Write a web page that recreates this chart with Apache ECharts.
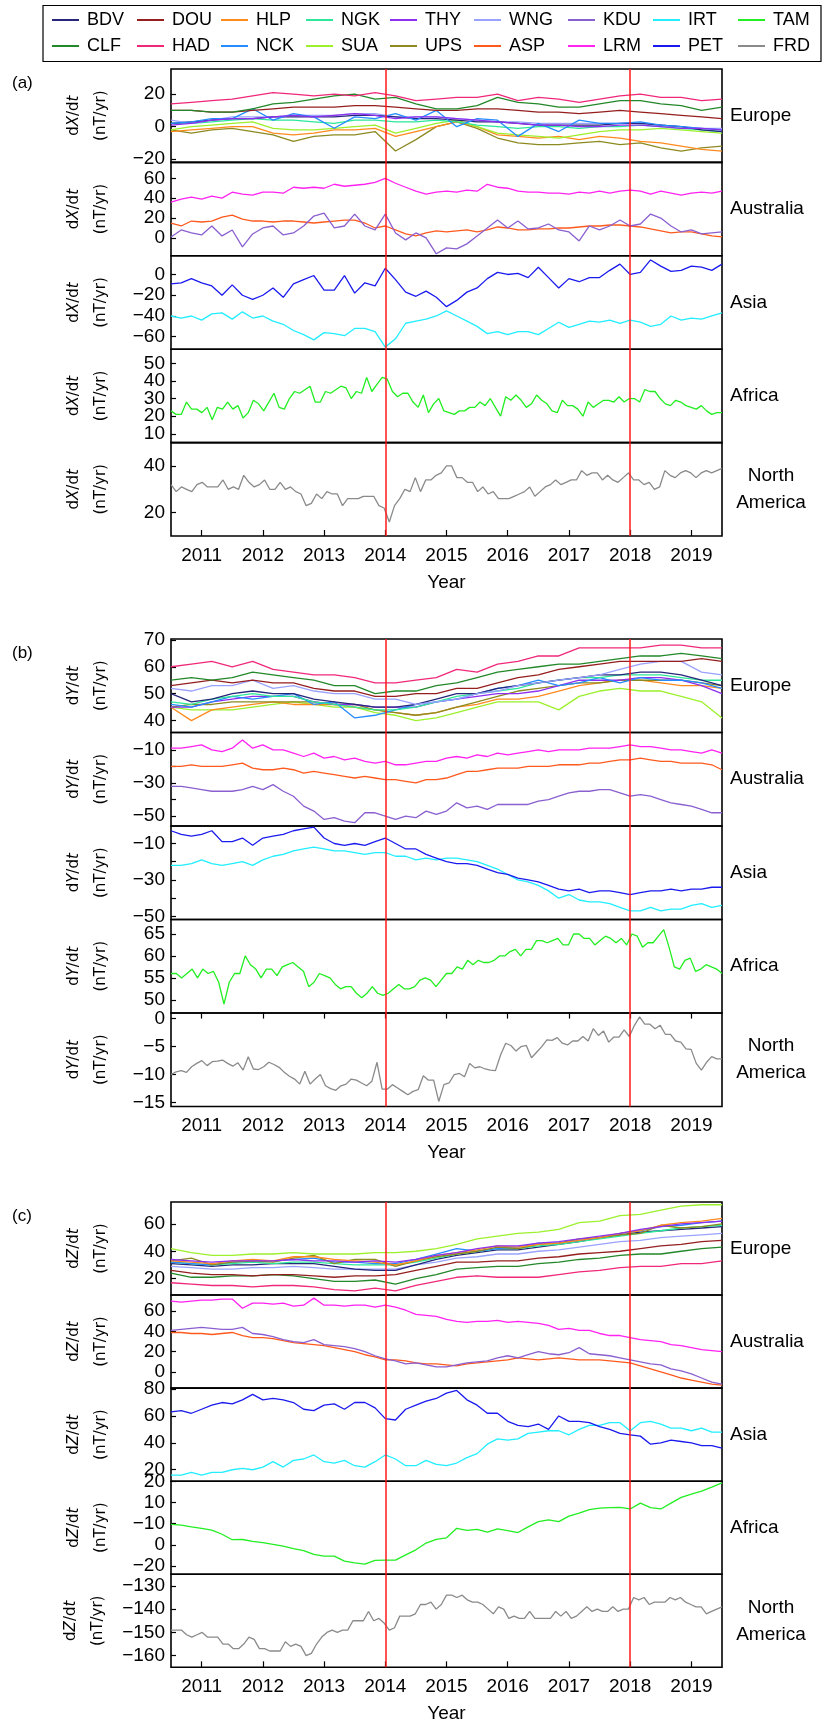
<!DOCTYPE html>
<html><head><meta charset="utf-8">
<script src="https://cdn.jsdelivr.net/npm/echarts@6/dist/echarts.min.js"></script>
<style>html,body{margin:0;padding:0;background:#fff}#c{width:822px;height:1726px}</style>
</head><body><div id="c"></div>
<script>
// ---------- tick labels ----------
const YEARS = [2011, 2012, 2013, 2014, 2015, 2016, 2017, 2018, 2019];
const EVENT_YEARS = [2014, 2018];
const T_START = 2010.5, T_END = 2019.5;

// ---------- (a) dX/dt ----------
// Europe (every ~4 months)
const xBDV = [2,3,4,5,5,6,6,6,6,7,7,6,5,5,4,3,3,2,1,1,1,1,2,2,1,0,-2,-3];
const xDOU = [10,10,9,9,10,11,12,12,12,13,13,12,11,10,10,11,11,10,9,9,8,9,10,9,8,7,6,5];
const xHLP = [-3,-2,-1,0,0,-4,-5,-4,-2,-2,-1,-6,-3,0,3,0,-5,-6,-7,-6,-8,-6,-7,-9,-10,-12,-14,-15];
const xNGK = [2,2,3,4,5,4,4,3,2,4,4,3,3,4,3,1,0,-1,0,0,-1,0,0,1,0,-1,-2,-3];
const xTHY = [1,2,4,5,5,6,7,6,7,8,7,5,6,6,5,4,3,2,1,1,0,0,1,1,0,-1,-1,-2];
const xWNG = [4,2,4,6,6,6,7,7,7,8,8,6,6,6,5,4,3,3,2,2,2,2,2,2,1,0,-1,-1];
const xCLF = [10,10,9,9,11,14,15,17,19,20,17,18,14,11,11,13,18,15,14,12,12,14,16,16,14,13,10,12];
const xHAD = [14,15,16,17,19,21,20,19,20,19,21,19,16,17,18,18,20,16,18,17,15,17,19,20,18,18,16,17];
const xNCK = [2,3,5,5,11,4,8,6,-1,6,5,8,4,10,0,5,4,-6,2,-3,4,2,2,3,1,0,-1,-2];
const xSUA = [-2,0,1,2,3,-1,-2,-2,-1,0,1,-4,-1,2,4,0,-4,-5,-6,-7,-5,-3,-2,-2,-1,-2,-3,-4];
const xUPS = [-2,-4,-2,-1,-3,-5,-9,-6,-5,-5,-3,-15,-8,0,3,-1,-7,-10,-11,-11,-10,-9,-11,-10,-13,-15,-13,-12];
// Australia (every 2 months)
const xLRM = [36,39,41,39,42,40,46,44,43,46,46,45,51,50,51,50,54,52,53,54,56,60,55,51,47,44,46,47,46,48,47,54,51,50,47,46,46,45,45,44,46,45,47,45,47,48,47,44,47,45,43,45,46,45,47];
const xASP = [15,12,17,16,17,21,23,19,17,17,16,17,17,16,15,16,17,18,18,15,10,12,8,4,2,5,7,6,7,8,6,8,11,10,8,8,9,9,10,10,11,12,12,13,13,12,11,9,7,5,6,6,4,2,1];
const xKDU = [1,8,5,3,12,2,8,-9,4,10,12,3,5,12,22,25,10,12,24,12,8,24,5,-2,5,0,-16,-10,-11,-6,2,10,18,10,17,9,10,14,8,6,-3,12,8,12,18,12,14,24,20,12,6,8,4,5,6];
// Asia
const xPET = [-9,-8,-4,-8,-11,-20,-10,-20,-24,-20,-13,-22,-9,-5,-1,-15,-15,-1,-18,-8,-11,6,-5,-17,-21,-16,-22,-31,-25,-17,-13,-4,2,0,1,-3,7,-3,-13,-4,-7,-3,-3,4,10,0,2,14,8,3,4,8,7,4,10];
const xIRT = [-40,-42,-40,-44,-38,-37,-43,-36,-42,-40,-45,-48,-54,-58,-63,-56,-57,-59,-52,-52,-55,-70,-62,-47,-45,-43,-40,-35,-40,-45,-50,-57,-55,-58,-55,-55,-58,-52,-46,-51,-48,-45,-46,-44,-47,-44,-46,-50,-48,-40,-44,-42,-43,-40,-37];
// Africa (monthly)
const xTAM = [23,21,21,28,24,24,22,25,18,25,24,28,24,26,19,22,29,27,23,28,33,25,24,30,34,33,35,37,28,28,34,33,35,37,36,30,34,33,42,34,38,42,41,34,31,33,33,28,25,32,22,27,30,23,22,21,23,23,25,25,28,26,30,25,20,31,29,32,29,25,27,32,29,27,23,22,29,26,26,24,20,28,25,27,29,29,28,31,28,30,30,28,35,34,34,30,27,26,29,28,26,25,24,26,23,21,22,22];
// North America (monthly)
const xFRD = [32,29,31,30,29,32,33,31,31,31,34,30,31,30,36,33,31,32,34,30,30,33,30,31,29,28,23,24,28,26,29,28,28,23,26,26,26,27,27,27,23,22,16,23,26,30,29,35,29,34,34,36,37,40,40,35,35,33,33,29,31,28,29,26,26,26,27,28,29,31,27,29,31,32,34,32,33,34,34,38,36,37,37,34,36,34,33,35,37,34,34,32,33,30,31,38,36,35,37,38,37,35,37,38,37,38,39];

// ---------- (b) dY/dt ----------
const yHAD = [60,61,62,60,62,59,58,57,57,56,54,54,55,56,59,58,61,62,64,64,67,67,67,67,68,68,67,67];
const yCLF = [55,56,55,56,58,57,56,55,53,53,50,51,51,53,54,56,58,59,60,61,61,62,63,64,64,65,64,63];
const yDOU = [53,54,55,54,55,54,54,52,51,51,49,49,50,50,52,52,54,56,57,59,60,61,62,62,62,62,63,62];
const yWNG = [52,51,53,53,55,52,53,51,50,50,48,48,46,47,48,50,51,53,54,55,56,57,59,61,62,62,58,57];
const yBDV = [50,47,48,50,51,50,50,48,47,46,45,45,46,48,50,50,52,53,54,55,56,57,57,58,58,57,55,53];
const yNGK = [47,46,48,49,50,49,49,47,46,45,44,44,45,47,49,50,51,52,54,55,56,56,57,57,57,56,55,55];
const yNCK = [46,45,47,49,48,49,50,46,47,41,42,44,46,47,48,50,52,53,55,53,54,56,54,56,55,55,54,52];
const yTHY = [45,45,47,48,49,49,49,47,46,46,45,45,45,47,48,49,50,50,51,53,55,55,55,56,56,55,53,50];
const yUPS = [45,46,46,47,47,47,47,47,46,46,44,43,42,43,45,47,49,51,52,53,54,54,55,55,55,55,54,53];
const yHLP = [45,40,44,45,46,47,46,46,46,45,44,43,42,43,45,46,48,48,49,51,53,54,55,55,54,53,53,52];
const ySUA = [45,44,44,44,45,46,47,46,45,45,43,42,40,41,43,45,47,47,47,44,49,51,52,51,51,49,47,41];
const yLRM = [-9,-9,-8,-7,-10,-11,-9,-4,-9,-7,-10,-10,-12,-14,-12,-15,-14,-16,-15,-17,-18,-17,-19,-19,-18,-17,-17,-15,-14,-15,-13,-14,-12,-13,-12,-11,-10,-11,-10,-10,-10,-9,-9,-9,-8,-7,-8,-8,-9,-10,-10,-11,-12,-10,-12];
const yASP = [-20,-20,-19,-20,-20,-20,-19,-18,-21,-22,-22,-21,-22,-24,-23,-24,-25,-26,-27,-26,-27,-28,-28,-29,-30,-28,-28,-27,-25,-23,-23,-22,-21,-21,-21,-20,-20,-20,-19,-19,-19,-18,-18,-17,-16,-16,-15,-16,-17,-17,-18,-18,-18,-19,-22];
const yKDU = [-32,-32,-33,-34,-35,-35,-35,-34,-32,-34,-31,-35,-38,-44,-47,-52,-51,-53,-54,-48,-48,-50,-52,-50,-51,-47,-49,-47,-42,-45,-44,-46,-43,-43,-43,-43,-41,-40,-38,-36,-35,-35,-34,-34,-36,-38,-37,-38,-40,-42,-43,-44,-46,-48,-48];
const yPET = [-3,-5,-6,-5,-3,-9,-9,-7,-11,-7,-6,-5,-3,-2,-1,-7,-10,-11,-10,-11,-9,-7,-10,-13,-13,-16,-18,-20,-21,-21,-22,-24,-26,-27,-29,-30,-31,-33,-35,-36,-35,-37,-36,-36,-37,-38,-37,-36,-36,-35,-36,-35,-35,-34,-34];
const yIRT = [-22,-22,-21,-19,-21,-22,-21,-20,-22,-19,-17,-16,-14,-13,-12,-13,-14,-14,-15,-16,-15,-15,-17,-17,-19,-18,-19,-18,-18,-19,-20,-22,-24,-27,-30,-31,-33,-36,-40,-38,-41,-42,-42,-43,-45,-47,-47,-45,-47,-46,-46,-44,-43,-45,-44];
const yTAM = [56,56,55,56,57,55,57,56,56.5,54,49,54,56,56,60,58,57,55,57,57,55.5,57.5,58,58.5,57.5,56.5,53,54,56,55.5,55,53.5,52.5,53,53,51.5,50.5,51.5,53,51.5,51,51.5,52.5,53.5,52.5,52.5,53,54.5,55,54.5,53,54.5,56,56,57.5,57,59,58,59,58.5,58.5,59,60,60,61,61.5,60,61.5,61.5,63.5,63.5,63,63.5,64,62.5,62.5,65,65,64,64,62.5,63.5,64.5,64,63,64,62.5,65,64.5,62,63,63,64.5,66,62,57.5,57,59,59.5,56.5,57,58,57.5,57,56];
const yFRD = [-10,-9.5,-9.3,-9.6,-8.6,-8,-7.5,-8.4,-7.7,-7.6,-7.4,-8,-8.5,-7.9,-9.2,-6.8,-9,-9.1,-8.6,-7.8,-8.2,-8.7,-9.6,-10.3,-10.8,-11.7,-9.4,-11.7,-10.8,-10,-12,-12.5,-12.8,-12,-11.7,-10.8,-11,-11.5,-12,-11.2,-7.8,-12.6,-12.6,-11.8,-12.4,-13,-13.6,-13,-12.7,-10.2,-11,-11,-14.8,-11.8,-11.5,-10,-9.8,-10.4,-8,-8.8,-8.6,-9,-9.2,-9.3,-6.5,-4.4,-4.8,-5.8,-5,-4.8,-7,-6,-5,-3.8,-3.9,-3.4,-4.4,-4.7,-4,-4,-3.2,-4,-1.8,-3,-2.2,-4.2,-3.3,-3.3,-2,-3.2,-1.2,0.3,-1,-1,-1.8,-1.2,-2.8,-2.8,-4,-4.2,-5.4,-5.5,-8,-9.2,-7.8,-6.8,-7.2,-7.2];

// ---------- (c) dZ/dt ----------
const zSUA = [42,39,37,37,38,38,39,38,38,38,39,39,40,42,45,49,51,53,54,56,61,62,66,67,70,73,74,74];
const zTHY = [34,33,32,33,33,33,34,33,33,32,33,32,34,37,39,42,44,44,46,47,49,51,53,56,58,60,61,62];
const zHLP = [33,32,31,33,34,33,36,36,34,33,32,30,33,37,39,41,44,43,45,46,48,50,53,55,59,61,62,64];
const zUPS = [33,35,30,32,33,32,35,37,31,34,34,29,33,36,38,40,43,42,45,46,49,50,52,53,59,57,58,60];
const zNCK = [32,31,30,32,33,33,34,35,32,32,31,31,34,38,42,40,42,43,46,46,48,50,53,55,58,59,61,62];
const zNGK = [32,31,30,31,32,31,32,32,31,30,30,30,32,35,38,40,42,42,44,45,47,49,51,53,55,57,58,59];
const zBDV = [31,30,29,30,30,31,31,31,29,27,26,26,30,34,37,39,41,41,43,45,47,50,52,54,55,56,57,58];
const zWNG = [29,28,27,27,28,28,29,28,27,27,27,27,30,32,35,36,38,38,40,41,43,45,47,48,50,51,52,53];
const zDOU = [26,24,23,23,22,23,23,22,21,22,22,23,26,29,32,32,33,33,35,36,38,39,40,42,44,45,47,48];
const zCLF = [24,21,21,22,22,23,22,20,18,18,19,16,20,23,27,28,29,29,31,32,34,35,37,38,38,40,42,43];
const zHAD = [17,16,15,15,14,15,15,14,12,11,13,11,15,18,21,22,21,21,21,23,25,26,28,29,29,31,31,33];
const zLRM = [70,69,70,71,71,72,72,63,68,68,67,68,65,66,73,66,66,65,66,66,64,66,64,61,57,56,55,52,50,49,50,50,51,49,50,49,48,46,42,43,41,41,38,36,36,34,32,31,30,27,26,24,22,21,20];
const zASP = [39,39,38,38,37,38,39,36,34,34,33,31,29,28,27,26,24,22,20,17,15,12,12,11,9,8,8,7,6,8,9,10,11,12,14,13,12,13,14,13,12,12,12,11,10,9,6,3,0,-3,-6,-8,-10,-12,-13];
const zKDU = [41,42,43,44,43,42,42,44,38,37,35,32,30,29,32,27,26,25,23,20,16,13,11,8,9,7,5,5,7,9,10,11,14,16,14,17,20,18,17,19,24,18,17,16,14,12,10,8,7,3,1,-2,-6,-10,-12];
const zPET = [63,64,62,65,68,70,69,72,76,72,73,72,70,65,64,68,69,65,70,70,66,58,57,65,68,71,73,77,79,72,68,62,62,56,53,52,54,50,60,56,56,55,52,50,47,46,45,39,40,42,41,40,38,38,36];
const zIRT = [16,16,18,16,18,18,20,21,20,22,26,22,27,28,31,26,25,27,23,22,26,31,28,23,23,27,24,23,25,29,32,39,43,42,43,47,48,49,49,46,50,53,53,55,55,49,55,56,54,51,51,49,51,48,48];
const zTAM = [-0.3,-0.7,-1.5,-2.2,-3,-5,-7.6,-7.5,-8.4,-9,-9.8,-10.6,-11.8,-12.8,-14.6,-15.4,-15.4,-17.8,-18.6,-19.2,-17.4,-17.3,-17.3,-14.8,-12.4,-9.2,-7.4,-6.7,-2.2,-3.2,-2.7,-4,-2.5,-3.3,-4.2,-1.5,1,1.8,1,3.6,5,6.7,7.4,7.6,7.8,7,9.8,7.6,7,9.8,12.5,14,15.5,17.4,19.4];
const zFRD = [-149,-149,-149,-151,-152,-151,-150,-152,-152,-152,-155,-155,-157,-157,-155,-152,-153,-157,-157,-158,-158,-158,-154,-156,-155,-156,-160,-159,-155,-152,-150,-149,-150,-149,-149,-145,-145,-145,-141,-145,-144,-146,-149,-148,-143,-143,-143,-142,-138,-138,-137,-140,-138,-134,-134,-135,-134,-136,-137,-137,-138,-140,-142,-139,-140,-144,-143,-144,-144,-141,-144,-144,-144,-144,-141,-143,-141,-144,-143,-141,-139,-141,-140,-141,-141,-139,-141,-140,-140,-135,-136,-135,-138,-137,-137,-137,-135,-136,-135,-137,-138,-139,-139,-142,-141,-140,-139];

// ---------- legend layout ----------
const LEG_ROW1 = ['BDV','DOU','HLP','NGK','THY','WNG','KDU','IRT','TAM'];
const LEG_ROW2 = ['CLF','HAD','NCK','SUA','UPS','ASP','LRM','PET','FRD'];

// ---------- styles ----------
const COLORS = {
  BDV:'#26267a', DOU:'#951f1f', HLP:'#ff8a1e', NGK:'#2de89a', THY:'#8e2ff0', WNG:'#9aa2ff',
  KDU:'#8a5fd0', IRT:'#22eeff', TAM:'#22ee22', CLF:'#23882a', HAD:'#f0287a', NCK:'#248cff',
  SUA:'#9cf02c', UPS:'#8c8a20', ASP:'#ff5a1e', LRM:'#ff22f0', PET:'#1a1aee', FRD:'#8a8a8a'
};
const FONT = 'Liberation Sans, Arial, sans-serif';
const LEFT = 171, RIGHT = 722;

const panels = [
  { label:'(a)', top:69, h:93.4, comp:'X', rows:[
    { region:'Europe', min:-22, max:35.5, ticks:[-20,0,20],
      data:{UPS:xUPS, HLP:xHLP, SUA:xSUA, NGK:xNGK, WNG:xWNG, BDV:xBDV, NCK:xNCK, THY:xTHY, DOU:xDOU, CLF:xCLF, HAD:xHAD} },
    { region:'Australia', min:-18, max:76, ticks:[0,20,40,60], data:{ASP:xASP, KDU:xKDU, LRM:xLRM} },
    { region:'Asia', min:-72, max:18, ticks:[-60,-40,-20,0], data:{IRT:xIRT, PET:xPET} },
    { region:'Africa', min:5, max:58, ticks:[10,20,30,40,50], labels:[10,30,50], extraLabels:[20,40], data:{TAM:xTAM} },
    { region:'North\nAmerica', min:10, max:50, ticks:[20,40], data:{FRD:xFRD} }
  ]},
  { label:'(b)', top:639, h:93.5, comp:'Y', rows:[
    { region:'Europe', min:35.6, max:70.3, ticks:[40,50,60,70],
      data:{SUA:ySUA, HLP:yHLP, UPS:yUPS, THY:yTHY, NCK:yNCK, NGK:yNGK, BDV:yBDV, WNG:yWNG, DOU:yDOU, CLF:yCLF, HAD:yHAD} },
    { region:'Australia', min:-56, max:0.5, ticks:[-50,-40,-30,-20,-10], labels:[-50,-30,-10], data:{KDU:yKDU, ASP:yASP, LRM:yLRM} },
    { region:'Asia', min:-51.7, max:-0.4, ticks:[-50,-40,-30,-20,-10], labels:[-50,-30,-10], data:{IRT:yIRT, PET:yPET} },
    { region:'Africa', min:47, max:68.3, ticks:[50,55,60,65], data:{TAM:yTAM} },
    { region:'North\nAmerica', min:-15.7, max:1, ticks:[-15,-10,-5,0], data:{FRD:yFRD} }
  ]},
  { label:'(c)', top:1202, h:93.06, comp:'Z', rows:[
    { region:'Europe', min:8, max:76, ticks:[20,40,60],
      data:{HAD:zHAD, CLF:zCLF, DOU:zDOU, WNG:zWNG, BDV:zBDV, NGK:zNGK, NCK:zNCK, UPS:zUPS, HLP:zHLP, THY:zTHY, SUA:zSUA} },
    { region:'Australia', min:-16, max:76, ticks:[0,20,40,60], data:{ASP:zASP, KDU:zKDU, LRM:zLRM} },
    { region:'Asia', min:11.5, max:80.7, ticks:[20,40,60,80], data:{IRT:zIRT, PET:zPET} },
    { region:'Africa', min:-24, max:20.2, ticks:[-20,-10,0,10,20],
      labelMap:{'20':'20','10':'10','0':'\u221210','-10':'0','-20':'\u221220'}, data:{TAM:zTAM} },
    { region:'North\nAmerica', min:-165, max:-125, ticks:[-160,-150,-140,-130], data:{FRD:zFRD} }
  ]}
];

function withTime(vals) {
  const n = vals.length;
  return vals.map((v, i) => [T_START + i * (T_END - T_START) / (n - 1), v]);
}
function fmt(v) { return String(v).replace('-', '\u2212'); }

const grid = [], xAxis = [], yAxis = [], series = [], graphic = [];

graphic.push({ type:'rect', shape:{x:43, y:5.5, width:778, height:56}, style:{fill:'none', stroke:'#000', lineWidth:1.2}, silent:true });

function yLabelCfg(r, values) {
  return { show:true, customValues:values, fontSize:19, lineHeight:13, fontFamily:FONT, color:'#000', margin:6,
    interval:0, showMinLabel:true, showMaxLabel:true, hideOverlap:false,
    formatter:(v) => r.labelMap ? r.labelMap[String(v)] : fmt(v) };
}

panels.forEach(p => {
  graphic.push({ type:'text', x:12, y:p.top + 14,
    style:{ text:p.label, fontSize:17, fontFamily:FONT, fill:'#000', textVerticalAlign:'middle', verticalAlign:'middle' }, silent:true });
  p.rows.forEach((r, ri) => {
    const gi = grid.length;
    const top = p.top + ri * p.h;
    const isBottom = ri === p.rows.length - 1;
    grid.push({ left:LEFT, width:RIGHT - LEFT, top:top, height:p.h, show:true,
      borderColor:'#000', borderWidth:1.6, backgroundColor:'transparent', containLabel:false });
    xAxis.push({ type:'value', gridIndex:gi, min:T_START, max:T_END, show:isBottom,
      axisLine:{show:false}, splitLine:{show:false},
      axisTick:{show:true, inside:true, length:6, customValues:YEARS, lineStyle:{color:'#000', width:1.2}},
      axisLabel:{show:true, customValues:YEARS, fontSize:19, fontFamily:FONT, color:'#000', margin:10,
        showMinLabel:true, showMaxLabel:true, hideOverlap:false, formatter:(v) => String(v)},
      name:isBottom ? 'Year' : '', nameLocation:'middle', nameGap:37,
      nameTextStyle:{fontSize:19, fontFamily:FONT, color:'#000'} });
    const c = p.comp;
    const yi = yAxis.length;
    yAxis.push({ type:'value', gridIndex:gi, min:r.min, max:r.max,
      axisLine:{show:false}, splitLine:{show:false},
      axisTick:{show:true, inside:true, length:5, customValues:r.ticks, lineStyle:{color:'#000', width:1.2}},
      axisLabel:yLabelCfg(r, r.labels || r.ticks),
      name:'{n|d}{i|' + c + '}{n|/d}{i|t}\n{n|(nT/yr)}', nameLocation:'middle', nameRotate:90, nameGap:56,
      nameTextStyle:{ color:'#000', fontFamily:'DejaVu Sans', fontSize:15, lineHeight:27,
        rich:{ n:{fontFamily:'DejaVu Sans', fontSize:15, lineHeight:27, color:'#000'},
               i:{fontFamily:'DejaVu Sans', fontSize:15, fontStyle:'italic', lineHeight:27, color:'#000'} } } });
    if (r.extraLabels) {
      // second, label-only axis on the same side so that closely spaced labels are all drawn
      yAxis.push({ type:'value', gridIndex:gi, min:r.min, max:r.max, position:'left', offset:0,
        axisLine:{show:false}, splitLine:{show:false}, axisTick:{show:false},
        axisLabel:yLabelCfg(r, r.extraLabels) });
    }
    let first = true;
    Object.keys(r.data).forEach(st => {
      const s = { name:st, type:'line', xAxisIndex:gi, yAxisIndex:yi, data:withTime(r.data[st]),
        showSymbol:false, symbol:'none', color:COLORS[st], itemStyle:{color:COLORS[st]},
        lineStyle:{width:1.3, color:COLORS[st]}, animation:false, silent:true, emphasis:{disabled:true} };
      if (first) {
        s.markLine = { silent:true, symbol:['none','none'], label:{show:false}, animation:false,
          lineStyle:{color:'#ff1a1a', width:1.5, type:'solid'},
          data:EVENT_YEARS.map(y => ({xAxis:y})) };
        first = false;
      }
      series.push(s);
    });
    const cy = top + p.h / 2;
    const multi = r.region.indexOf('\n') >= 0;
    graphic.push({ type:'text', x: multi ? 771 : 730, y: cy, silent:true,
      style:{ text:r.region, fontSize:19, fontFamily:FONT, fill:'#000', lineHeight:27,
        textAlign: multi ? 'center' : 'left', align: multi ? 'center' : 'left',
        textVerticalAlign:'middle', verticalAlign:'middle' } });
  });
});

const LEG_X = [52,137,221,306,390,474,568,653,738];
const legend = [];
[LEG_ROW1, LEG_ROW2].forEach((row, ri) => {
  row.forEach((name, i) => {
    legend.push({ data:[name], left:LEG_X[i], top: ri === 0 ? 11 : 37, icon:'rect', itemWidth:27, itemHeight:2,
      padding:0, itemGap:0, selectedMode:false,
      textStyle:{fontSize:18, fontFamily:FONT, color:'#000', padding:[0,0,0,3]} });
  });
});

const chart = echarts.init(document.getElementById('c'), null, {renderer:'canvas'});
chart.setOption({ animation:false, backgroundColor:'#fff', grid, xAxis, yAxis, series, legend, graphic });
</script></body></html>
